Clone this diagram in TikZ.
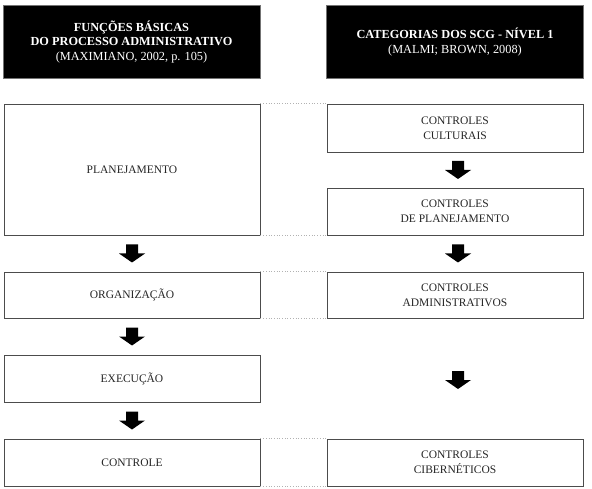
\documentclass[tikz,border=0pt]{standalone}
\usepackage{fontspec}
\setmainfont{Liberation Serif}
\begin{document}
\begin{tikzpicture}[x=1pt,y=-1pt,
  box/.style={draw=black!70, line width=0.9pt, fill=white, inner sep=0pt, minimum width=256pt, align=center, font=\fontsize{11.5}{15}\selectfont, text=black!85},
  head/.style={draw=black!55, line width=0.8pt, fill=black, inner sep=0pt, minimum width=257pt, minimum height=73pt, align=center, font=\bfseries\fontsize{12.3}{14.5}\selectfont, text=white},
  link/.style={draw=black!30, dotted, line width=0.7pt},
  blockarrow/.style={fill=black}]
\useasboundingbox (0,0) rectangle (592,489);
\node[head] (hL) at (131.5,42) {FUNÇÕES BÁSICAS\\DO PROCESSO ADMINISTRATIVO\\{\normalfont (MAXIMIANO, 2002, p. 105)}};
\node[head] (hR) at (455,42) {CATEGORIAS DOS SCG - NÍVEL 1\\{\normalfont (MALMI; BROWN, 2008)}};
% left column
\node[box, minimum height=131pt] (pl) at (132,169.5) {PLANEJAMENTO};
\node[box, minimum height=46pt] (org) at (132,295) {ORGANIZAÇÃO};
\node[box, minimum height=47pt] (exe) at (132,378.5) {EXECUÇÃO};
\node[box, minimum height=47pt] (con) at (132,462.5) {CONTROLE};
% right column
\node[box, minimum height=48pt] (cul) at (455,128) {CONTROLES\\CULTURAIS};
\node[box, minimum height=47pt] (cpl) at (455,211.5) {CONTROLES\\DE PLANEJAMENTO};
\node[box, minimum height=46pt] (adm) at (455,295) {CONTROLES\\ADMINISTRATIVOS};
\node[box, minimum height=47pt] (cib) at (455,462.5) {CONTROLES\\CIBERNÉTICOS};
% dotted links
\draw[link] (pl.north east) -- (cul.north west);
\draw[link] (pl.south east) -- (cpl.south west);
\draw[link] (org.north east) -- (adm.north west);
\draw[link] (org.south east) -- (adm.south west);
\draw[link] (con.north east) -- (cib.north west);
\draw[link] (con.south east) -- (cib.south west);
% block arrows
\coordinate (a1) at (132,253.5);
\coordinate (a2) at (132,336.5);
\coordinate (a3) at (132,420.5);
\coordinate (a4) at (458,170);
\coordinate (a5) at (458,253.5);
\coordinate (a6) at (458,380);
\foreach \a in {a1,a2,a3,a4,a5,a6}{
  \fill[blockarrow, shift={(\a)}] (-6,-9) -- (6,-9) -- (6,0) -- (13,0) -- (0,9) -- (-13,0) -- (-6,0) -- cycle;
}
\end{tikzpicture}
\end{document}
